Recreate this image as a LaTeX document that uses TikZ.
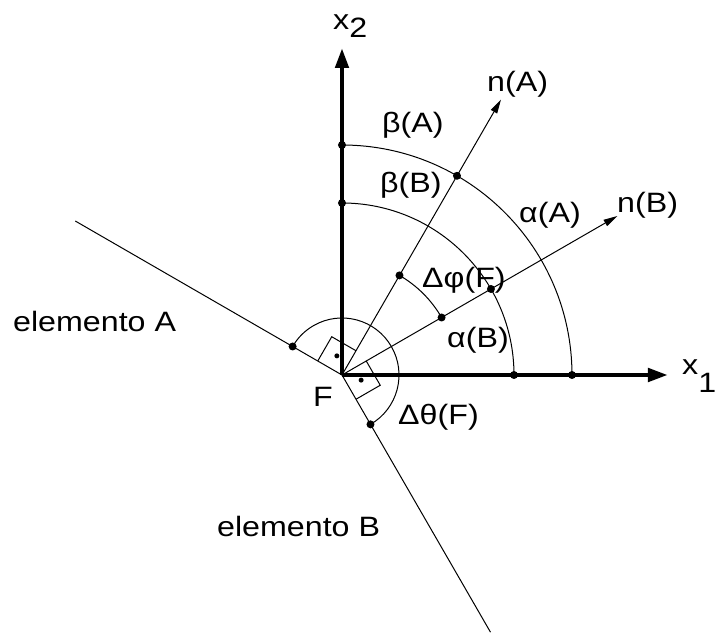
\documentclass[tikz,border=0pt]{standalone}
\usepackage{fontspec}
\setmainfont{Liberation Sans}[FakeStretch=1.15]
\usetikzlibrary{arrows.meta}
\begin{document}
\begin{tikzpicture}[x=1pt,y=1pt,
  thinline/.style={line width=1pt},
  axis/.style={line width=4.5pt,-{Triangle[length=20pt,width=13pt]}},
  normalvec/.style={line width=1pt,-{Triangle[length=14pt,width=7pt]}},
  bigdot/.style={circle,fill,inner sep=0pt,minimum size=8pt},
  smalldot/.style={circle,fill,inner sep=0pt,minimum size=5pt},
  lbl/.style={anchor=base west,inner sep=0pt,font=\fontsize{28}{34}\selectfont}]
\useasboundingbox (-342,-259) rectangle (374,375);
\coordinate (F) at (0,0);
% end points
\coordinate (X1) at (326,0);
\coordinate (X2) at (0,327);
\coordinate (NA) at (60:318);
\coordinate (NB) at (30:318);
\coordinate (EA) at (150:308);
\coordinate (EB) at (-60:297);
% arc points
\coordinate (OA0) at (0:230);
\coordinate (OA60) at (60:230);
\coordinate (OA90) at (90:230);
\coordinate (IA0) at (0:172);
\coordinate (IA30) at (30:172);
\coordinate (IA90) at (90:172);
\coordinate (PA) at (60:115);
\coordinate (PB) at (30:115);
\coordinate (TA) at (150:57);
\coordinate (TB) at (-60:57);
% element lines
\draw[thinline] (F) -- (EA);
\draw[thinline] (F) -- (EB);
% normals
\draw[normalvec] (F) -- (NA);
\draw[normalvec] (F) -- (NB);
% arcs
\draw[thinline] (OA0) arc[start angle=0,end angle=90,radius=230];
\draw[thinline] (IA0) arc[start angle=0,end angle=90,radius=172];
\draw[thinline] (PB) arc[start angle=30,end angle=60,radius=115];
\draw[thinline] (TB) arc[start angle=-60,end angle=150,radius=57];
% right-angle markers
\draw[thinline] (150:28) -- ([shift={(60:28)}]150:28) -- (60:28);
\draw[thinline] (30:28) -- ([shift={(-60:28)}]30:28) -- (-60:28);
\node[smalldot] (RA) at ([shift={(60:14)}]150:14) {};
\node[smalldot] (RB) at ([shift={(-60:14)}]30:14) {};
% axes
\draw[axis] (F) -- (X1);
\draw[axis] (F) -- (X2);
% dots
\foreach \p in {OA0,OA60,OA90,IA0,IA30,IA90,PA,PB,TA,TB}
  \node[bigdot] at (\p) {};
% labels
\node[lbl] (lx1) at (340,0) {x\raisebox{-18pt}{1}};
\node[lbl] (lx2) at (-9,345) {x\raisebox{-8pt}{2}};
\node[lbl] (lnA) at (145,283) {n(A)};
\node[lbl] (lnB) at (275,162) {n(B)};
\node[lbl] (lbA) at (40,242) {β(A)};
\node[lbl] (lbB) at (38,182) {β(B)};
\node[lbl] (laA) at (177,152) {α(A)};
\node[lbl] (laB) at (105,27) {α(B)};
\node[lbl] (ldp) at (80,87) {Δφ(F)};
\node[lbl] (ldt) at (56,-50) {Δθ(F)};
\node[lbl] (lF) at (-29,-32) {F};
\node[lbl] (leA) at (-329,43) {elemento A};
\node[lbl] (leB) at (-125,-162) {elemento B};
\end{tikzpicture}
\end{document}
